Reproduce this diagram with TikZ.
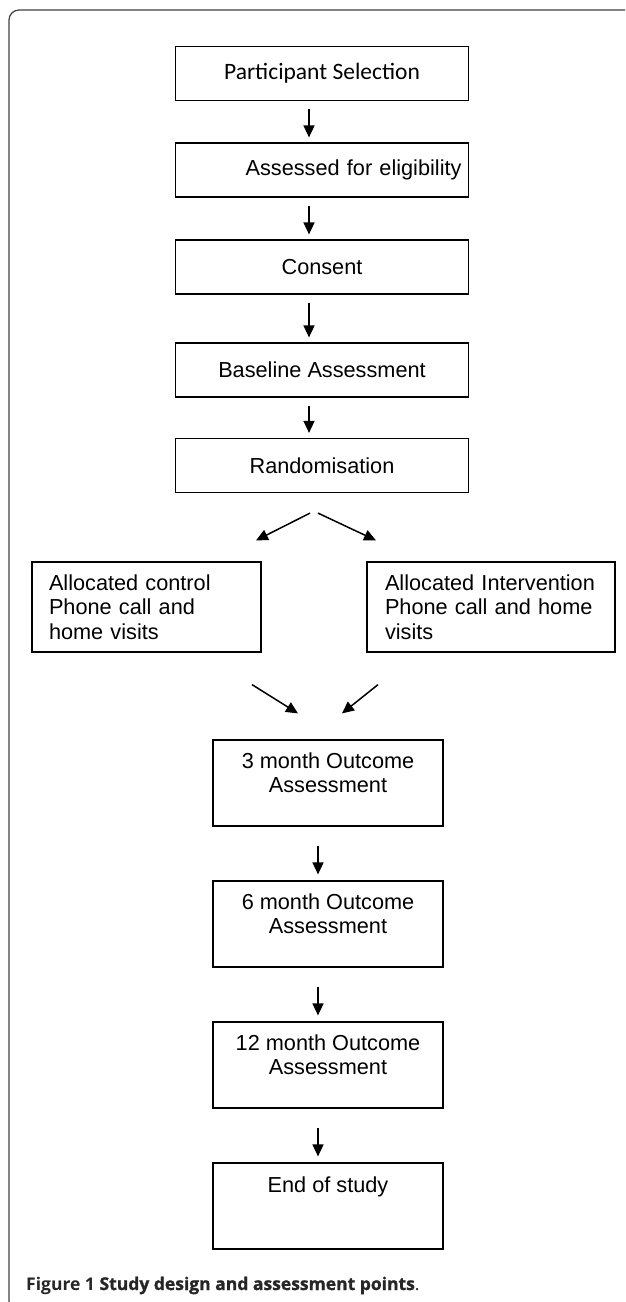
\documentclass[tikz,border=0pt]{standalone}
\usepackage{fontspec}
\usetikzlibrary{arrows.meta}
\newfontfamily\arialfam{Liberation Sans}
\newfontfamily\calfam{Carlito}
\newfontfamily\capfam{Open Sans}
\newfontfamily\capmed[FakeBold=1.2]{Open Sans}
\newcommand\arialf{\arialfam\fontsize{21.7}{24.5}\selectfont}
\begin{document}
\begin{tikzpicture}[x=1pt,y=-1pt,
  frame/.style={draw=black!75, line width=1.2pt},
  tbox/.style={draw, line width=1.2pt, minimum width=293pt, minimum height=54pt, inner sep=0pt, font=\arialf},
  sbox/.style={draw, line width=1.2pt, minimum height=90pt, inner ysep=0pt, align=left, font=\arialf},
  bbox/.style={draw, line width=1.2pt, minimum width=230pt, minimum height=86pt, inner sep=0pt},
  btext/.style={inner sep=0pt, align=center, font=\arialf, anchor=north},
  arr/.style={line width=1.5pt, -{Triangle[length=12pt,width=11pt]}}]
\useasboundingbox (0,0) rectangle (625,1302);
\begin{scope}
\clip (0,0) rectangle (625,1302);
\draw[frame, rounded corners=10pt] (700,10) -- (9,10) -- (9,1311) -- (700,1311);
\end{scope}
% top column
\node[tbox, font=\calfam\fontsize{23.5}{26}\selectfont] (b1) at (322,73.5) {Participant Selection};
\node[tbox, text width=279pt, align=right] (b2) at (322,170) {Assessed for eligibility};
\node[tbox] (b3) at (322,267) {Consent};
\node[tbox] (b4) at (322,370) {Baseline Assessment};
\node[tbox] (b5) at (322,465.5) {Randomisation};
% allocation boxes
\node[sbox, minimum width=229pt, text width=195pt, inner xsep=17pt] (ctl) at (146.5,607) {Allocated control\\Phone call and\\home visits};
\node[sbox, minimum width=248pt, text width=212pt, inner xsep=18pt] (int) at (491,607) {Allocated Intervention\\Phone call and home\\visits};
% follow-up boxes
\node[bbox] (m3) at (328,783) {};
\node[btext] (m3t) at ([yshift=-13pt]m3.north) {3 month Outcome\\Assessment};
\node[bbox] (m6) at (328,924) {};
\node[btext] (m6t) at ([yshift=-13pt]m6.north) {6 month Outcome\\Assessment};
\node[bbox] (m12) at (328,1065) {};
\node[btext] (m12t) at ([yshift=-13pt]m12.north) {12 month Outcome\\Assessment};
\node[bbox] (end) at (328,1206) {};
\node[btext] (endt) at ([yshift=-14pt]end.north) {End of study};
% caption
\node[anchor=base west, inner sep=0pt, text=black!85] (cap) at (26,1290)
  {\capfam\fontsize{17.5}{20}\selectfont\bfseries Figure 1 \capmed Study design and assessment points\mdseries\capfam.};
% arrows top column
\foreach \a/\b in {b1/b2,b2/b3,b3/b4,b4/b5}{
  \draw[arr] ([xshift=-13pt,yshift=-8pt]\a.south) -- ([xshift=-13pt,yshift=5pt]\b.north);
}
% diverging
\draw[arr] ([xshift=-12pt,yshift=-20pt]b5.south) -- ([xshift=109.5pt,yshift=21pt]ctl.north);
\draw[arr] ([xshift=-4pt,yshift=-20pt]b5.south) -- ([xshift=-115pt,yshift=21pt]int.north);
% converging
\draw[arr] ([xshift=105.5pt,yshift=-32pt]ctl.south) -- ([xshift=-30pt,yshift=26pt]m3.north);
\draw[arr] ([xshift=-113pt,yshift=-32pt]int.south) -- ([xshift=14pt,yshift=26pt]m3.north);
% arrows bottom column
\foreach \a/\b in {m3/m6,m6/m12,m12/end}{
  \draw[arr] ([xshift=-10pt,yshift=-19pt]\a.south) -- ([xshift=-10pt,yshift=6pt]\b.north);
}
\end{tikzpicture}
\end{document}
